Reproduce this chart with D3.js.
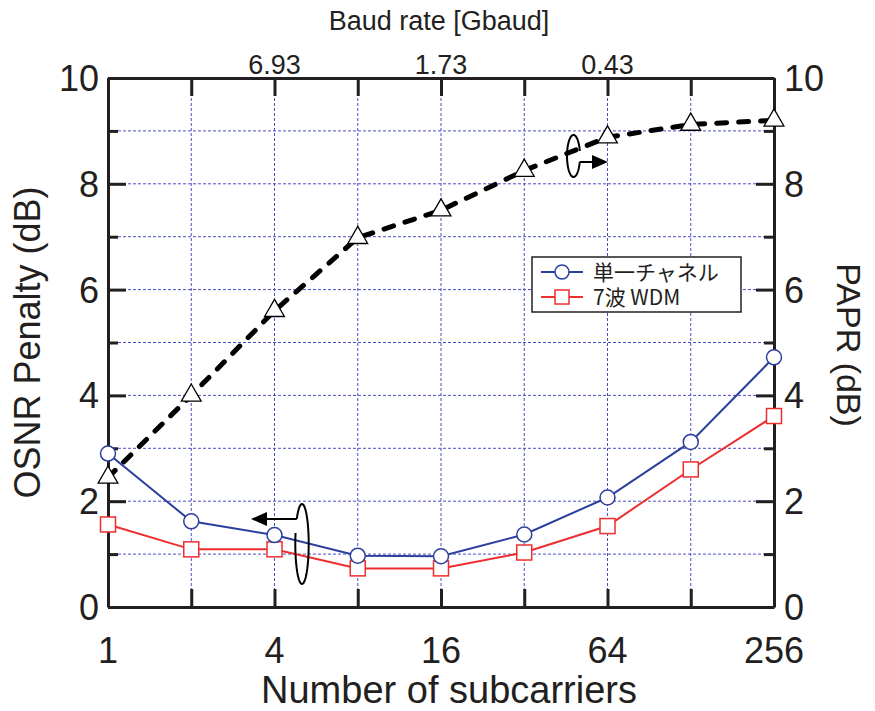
<!DOCTYPE html>
<html>
<head>
<meta charset="utf-8">
<script src="https://cdn.jsdelivr.net/npm/d3@7/dist/d3.min.js"></script>
<style>
  body { margin: 0; background: #fff; }
  text { font-family: "Liberation Sans", Arial, sans-serif; fill: #231f20; }
</style>
</head>
<body>
<div id="chart"></div>
<script>
// データ
const subcarriers = [1, 2, 4, 8, 16, 32, 64, 128, 256];
const singleChannel = [2.9, 1.62, 1.36, 0.97, 0.96, 1.37, 2.07, 3.12, 4.72];
const wdm7 = [1.56, 1.09, 1.09, 0.73, 0.73, 1.03, 1.53, 2.6, 3.61];
const papr = [2.45, 4.0, 5.6, 6.98, 7.5, 8.25, 8.88, 9.12, 9.2];
const bottomTickLabels = [1, 4, 16, 64, 256];
const baudTicks = [4, 16, 64];
const baudLabels = ['6.93', '1.73', '0.43'];
const legendNames = ['単一チャネル', '7波 WDM'];

const W = 875, H = 711;
const margin = {top: 78, right: 101, bottom: 104, left: 108};
const width = W - margin.left - margin.right;
const height = H - margin.top - margin.bottom;

const svg = d3.select('#chart').append('svg')
  .attr('width', W).attr('height', H);
const g = svg.append('g')
  .attr('transform', `translate(${margin.left},${margin.top})`);

const x = d3.scaleLog().base(2).domain([1, 256]).range([0, width]);
const yL = d3.scaleLinear().domain([0, 10]).range([height, 0]);
const yR = d3.scaleLinear().domain([0, 10]).range([height, 0]);

const gridColor = '#4a4fc4';
const axisColor = '#231f20';

// グリッド
g.append('g').selectAll('line')
  .data(d3.range(1, 10))
  .join('line')
  .attr('x1', 0).attr('x2', width)
  .attr('y1', d => yL(d)).attr('y2', d => yL(d))
  .attr('stroke', gridColor).attr('stroke-width', 1)
  .attr('stroke-dasharray', '3,2');
g.append('g').selectAll('line')
  .data(subcarriers.slice(1, -1))
  .join('line')
  .attr('x1', d => x(d)).attr('x2', d => x(d))
  .attr('y1', 0).attr('y2', height)
  .attr('stroke', gridColor).attr('stroke-width', 1)
  .attr('stroke-dasharray', '3,2');

// 軸（内向き目盛）
const yTicks = d3.range(0, 11);
const leftAxis = d3.axisRight(yL).tickValues(yTicks).tickFormat('').tickSizeOuter(0);
const rightAxis = d3.axisLeft(yR).tickValues(yTicks).tickFormat('').tickSizeOuter(0);
const bottomAxis = d3.axisTop(x).tickValues(subcarriers).tickFormat('').tickSize(18).tickSizeOuter(0);
const topAxis = d3.axisBottom(x).tickValues(subcarriers).tickFormat('').tickSize(18).tickSizeOuter(0);

function styleAxis(sel) {
  sel.selectAll('path, line').attr('stroke', axisColor).attr('stroke-width', 3);
}

g.append('g').call(leftAxis).call(styleAxis)
  .selectAll('.tick line').attr('x2', d => d % 2 === 0 ? 18 : 10);
g.append('g').attr('transform', `translate(${width},0)`).call(rightAxis).call(styleAxis)
  .selectAll('.tick line').attr('x2', d => d % 2 === 0 ? -18 : -10);
g.append('g').attr('transform', `translate(0,${height})`).call(bottomAxis).call(styleAxis);
g.append('g').call(topAxis).call(styleAxis);

// 目盛ラベル
const fs = 36;
g.append('g').selectAll('text')
  .data(d3.range(0, 11, 2)).join('text')
  .attr('x', -9).attr('y', d => yL(d) + 13)
  .attr('text-anchor', 'end').attr('font-size', fs)
  .text(d => d);
g.append('g').selectAll('text')
  .data(d3.range(0, 11, 2)).join('text')
  .attr('x', width + 10).attr('y', d => yR(d) + 13)
  .attr('text-anchor', 'start').attr('font-size', fs)
  .text(d => d);
g.append('g').selectAll('text')
  .data(bottomTickLabels).join('text')
  .attr('x', d => x(d)).attr('y', height + 56)
  .attr('text-anchor', 'middle').attr('font-size', fs)
  .text(d => d);
g.append('g').selectAll('text')
  .data(baudTicks).join('text')
  .attr('x', (d, i) => x(d)).attr('y', -4)
  .attr('text-anchor', 'middle').attr('font-size', 27)
  .text((d, i) => baudLabels[i]);

// 軸タイトル
svg.append('text')
  .attr('x', margin.left + width / 2 + 8).attr('y', 703)
  .attr('text-anchor', 'middle').attr('font-size', 38)
  .text('Number of subcarriers');
svg.append('text')
  .attr('x', margin.left + width / 2 - 2).attr('y', 30)
  .attr('text-anchor', 'middle').attr('font-size', 27)
  .text('Baud rate [Gbaud]');
svg.append('text')
  .attr('transform', `translate(40,${margin.top + height / 2}) rotate(-90)`)
  .attr('text-anchor', 'middle').attr('font-size', 36)
  .text('OSNR Penalty (dB)');
svg.append('text')
  .attr('transform', `translate(837,345) rotate(90)`)
  .attr('text-anchor', 'middle').attr('font-size', 34)
  .text('PAPR (dB)');

// PAPR 破線
const pts = subcarriers.map((d, i) => ({x: d, y: papr[i]}));
g.append('path').datum(pts)
  .attr('fill', 'none').attr('stroke', '#000').attr('stroke-width', 5)
  .attr('stroke-dasharray', '10,12').attr('stroke-linecap', 'round')
  .attr('d', d3.line().x(d => x(d.x)).y(d => yR(d.y)));
const tri = d3.symbol().type(d3.symbolTriangle).size(170);
g.append('g').selectAll('path')
  .data(pts).join('path')
  .attr('transform', d => `translate(${x(d.x)},${yR(d.y)})`)
  .attr('d', tri).attr('fill', '#fff').attr('stroke', '#000').attr('stroke-width', 1.3);

// OSNR ペナルティ系列
function drawSeries(vals, color, shape) {
  const data = subcarriers.map((d, i) => ({x: d, y: vals[i]}));
  g.append('path').datum(data)
    .attr('fill', 'none').attr('stroke', color).attr('stroke-width', 2)
    .attr('d', d3.line().x(d => x(d.x)).y(d => yL(d.y)));
  const s = g.append('g').selectAll('.m').data(data).join(shape === 'circle' ? 'circle' : 'rect');
  if (shape === 'circle') {
    s.attr('cx', d => x(d.x)).attr('cy', d => yL(d.y)).attr('r', 7.5);
  } else {
    s.attr('x', d => x(d.x) - 7.5).attr('y', d => yL(d.y) - 7.5).attr('width', 15).attr('height', 15);
  }
  s.attr('fill', '#fff').attr('stroke', color).attr('stroke-width', 1.5);
}
drawSeries(wdm7, '#ee2d2f', 'rect');
drawSeries(singleChannel, '#2b3f9e', 'circle');

// 注釈（開いた楕円と矢印）
function annot(cx, cy, rx, ry, t0, t1, ay, xTip) {
  const p = d3.path();
  const n = 60;
  for (let k = 0; k <= n; k++) {
    const t = t0 + (t1 - t0) * k / n;
    const px = cx + rx * Math.cos(t), py = cy + ry * Math.sin(t);
    if (k === 0) p.moveTo(px, py); else p.lineTo(px, py);
  }
  svg.append('path').attr('d', p.toString())
    .attr('fill', 'none').attr('stroke', '#000').attr('stroke-width', 2);
  const x0 = cx + rx * Math.cos(t0);
  const dir = xTip > x0 ? 1 : -1;
  svg.append('line')
    .attr('x1', x0).attr('y1', ay).attr('x2', xTip - dir * 12).attr('y2', ay)
    .attr('stroke', '#000').attr('stroke-width', 2);
  svg.append('path')
    .attr('d', `M${xTip},${ay} L${xTip - dir * 16},${ay - 7} L${xTip - dir * 16},${ay + 7} Z`)
    .attr('fill', '#000');
}
annot(302, 544, 6.7, 40, 3.82, 3.42 + 2 * Math.PI, 519, 251);
annot(573.5, 156, 6.5, 21, 0.28, 2 * Math.PI - 0.24, 162, 608);

// 凡例
const lg = svg.append('g').attr('transform', 'translate(532,257)');
lg.append('rect').attr('width', 209).attr('height', 55)
  .attr('fill', '#fff').attr('stroke', '#231f20').attr('stroke-width', 1.5);
const colors = ['#2b3f9e', '#ee2d2f'];
legendNames.forEach((name, i) => {
  const yy = 15 + i * 25;
  lg.append('line').attr('x1', 9).attr('x2', 51).attr('y1', yy).attr('y2', yy)
    .attr('stroke', colors[i]).attr('stroke-width', 2);
  if (i === 0) {
    lg.append('circle').attr('cx', 30).attr('cy', yy).attr('r', 7)
      .attr('fill', '#fff').attr('stroke', colors[i]).attr('stroke-width', 1.5);
  } else {
    lg.append('rect').attr('x', 23).attr('y', yy - 7).attr('width', 14).attr('height', 14)
      .attr('fill', '#fff').attr('stroke', colors[i]).attr('stroke-width', 1.5);
  }
  lg.append('text').attr('x', 61).attr('y', yy + 8)
    .attr('font-size', 21)
    .style('font-family', '"Noto Sans CJK JP", "Liberation Sans", sans-serif')
    .text(name);
});
</script>
</body>
</html>
